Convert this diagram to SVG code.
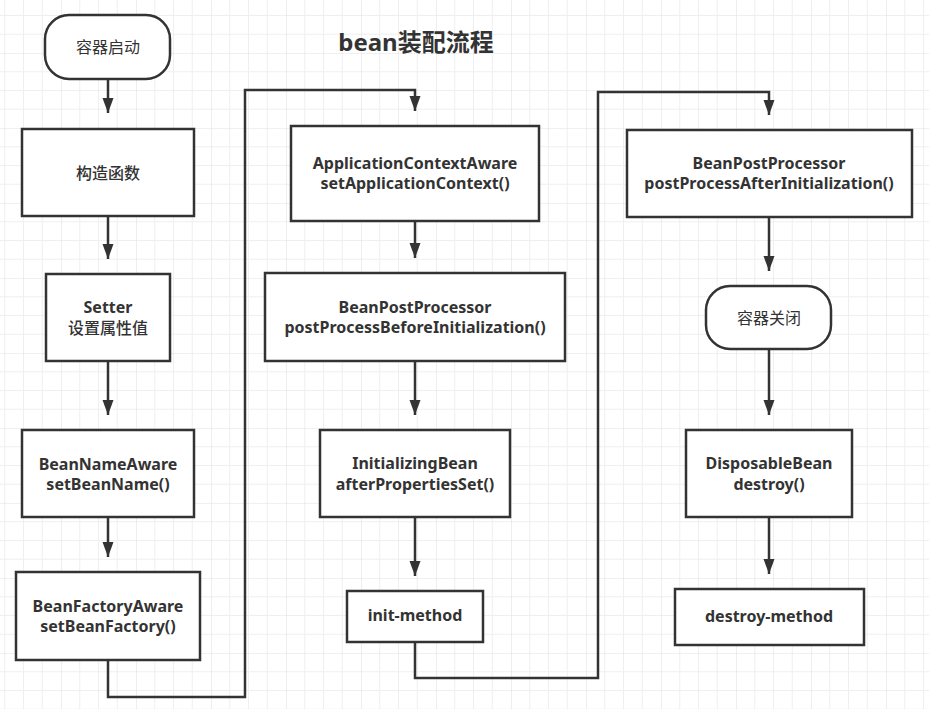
<svg xmlns="http://www.w3.org/2000/svg" width="929" height="709" viewBox="0 0 929 709">
<defs>
<pattern id="grid" patternUnits="userSpaceOnUse" x="61" y="53" width="75" height="75">
<path d="M18.75 0V75M37.5 0V75M56.25 0V75M0 18.75H75M0 37.5H75M0 56.25H75" stroke="#efefef" stroke-width="1" fill="none"/>
<path d="M0 0V75M0 0H75" stroke="#e2e2e2" stroke-width="1.2" fill="none"/>
</pattern>
<marker id="arrD" markerUnits="userSpaceOnUse" markerWidth="12" markerHeight="16" viewBox="0 0 12 16" refX="6" refY="15" orient="0">
<path d="M0.5 0L6 15L11.5 0Z" fill="#333"/>
</marker>
</defs>
<style>
.box{fill:#fff;stroke:#333;stroke-width:2.5}
.t{font-family:"Noto Sans","Open Sans","Noto Sans CJK SC",sans-serif;font-size:16px;font-weight:bold;fill:#333;text-anchor:middle}
.c{font-family:"Noto Sans CJK SC",sans-serif;font-size:16px;font-weight:normal;fill:#333;text-anchor:middle}
.cb{font-family:"Noto Sans","Noto Sans CJK SC",sans-serif;font-size:16px;font-weight:500;fill:#333;text-anchor:middle}
.title{font-family:"Noto Sans","Noto Sans CJK SC",sans-serif;font-size:24px;font-weight:bold;fill:#333;text-anchor:middle}
.ln{fill:none;stroke:#333;stroke-width:2.5}
</style>
<rect width="929" height="709" fill="#fff"/>
<rect width="929" height="709" fill="url(#grid)"/>
<text class="title" x="416" y="51">bean装配流程</text>
<g id="connectors">
<path class="ln" d="M108 79V113" marker-end="url(#arrD)"/>
<path class="ln" d="M108 216V259" marker-end="url(#arrD)"/>
<path class="ln" d="M108 361V415" marker-end="url(#arrD)"/>
<path class="ln" d="M108 517V557" marker-end="url(#arrD)"/>
<path class="ln" d="M108 660V697H245V90H415V111" marker-end="url(#arrD)"/>
<path class="ln" d="M415 221V258" marker-end="url(#arrD)"/>
<path class="ln" d="M415 361V415" marker-end="url(#arrD)"/>
<path class="ln" d="M415 517V576" marker-end="url(#arrD)"/>
<path class="ln" d="M415 642V678H598V92H769V115" marker-end="url(#arrD)"/>
<path class="ln" d="M769 217V271" marker-end="url(#arrD)"/>
<path class="ln" d="M769 349V415" marker-end="url(#arrD)"/>
<path class="ln" d="M769 517V574" marker-end="url(#arrD)"/>
</g>
<g id="start"><rect class="box" x="45" y="15" width="125" height="64" rx="24"/><text class="c" x="108" y="53">容器启动</text></g>
<g id="ctor"><rect class="box" x="22" y="129" width="172" height="87"/><text class="cb" x="108" y="179">构造函数</text></g>
<g id="setter"><rect class="box" x="46" y="274" width="124" height="87"/><text class="t" x="108" y="313">Setter</text><text class="cb" x="108" y="334">设置属性值</text></g>
<g id="beanNameAware"><rect class="box" x="22" y="430" width="172" height="87"/><text class="t" x="108" y="470">BeanNameAware</text><text class="t" x="108" y="490">setBeanName()</text></g>
<g id="beanFactoryAware"><rect class="box" x="16" y="572" width="184" height="88"/><text class="t" x="108" y="612">BeanFactoryAware</text><text class="t" x="108" y="632">setBeanFactory()</text></g>
<g id="appCtxAware"><rect class="box" x="291" y="126" width="248" height="95"/><text class="t" x="415" y="169">ApplicationContextAware</text><text class="t" x="415" y="189">setApplicationContext()</text></g>
<g id="bppBefore"><rect class="box" x="265" y="273" width="300" height="88"/><text class="t" x="415" y="313">BeanPostProcessor</text><text class="t" x="415" y="333">postProcessBeforeInitialization()</text></g>
<g id="initializingBean"><rect class="box" x="320" y="430" width="190" height="87"/><text class="t" x="415" y="469">InitializingBean</text><text class="t" x="415" y="490">afterPropertiesSet()</text></g>
<g id="initMethod"><rect class="box" x="347" y="591" width="136" height="51"/><text class="t" x="415" y="621">init-method</text></g>
<g id="bppAfter"><rect class="box" x="627" y="130" width="285" height="87"/><text class="t" x="769" y="169">BeanPostProcessor</text><text class="t" x="769" y="189">postProcessAfterInitialization()</text></g>
<g id="close"><rect class="box" x="706" y="286" width="125" height="63" rx="24"/><text class="c" x="769" y="324">容器关闭</text></g>
<g id="disposableBean"><rect class="box" x="686" y="430" width="166" height="87"/><text class="t" x="769" y="469">DisposableBean</text><text class="t" x="769" y="490">destroy()</text></g>
<g id="destroyMethod"><rect class="box" x="675" y="589" width="189" height="56"/><text class="t" x="769" y="622">destroy-method</text></g>
</svg>
